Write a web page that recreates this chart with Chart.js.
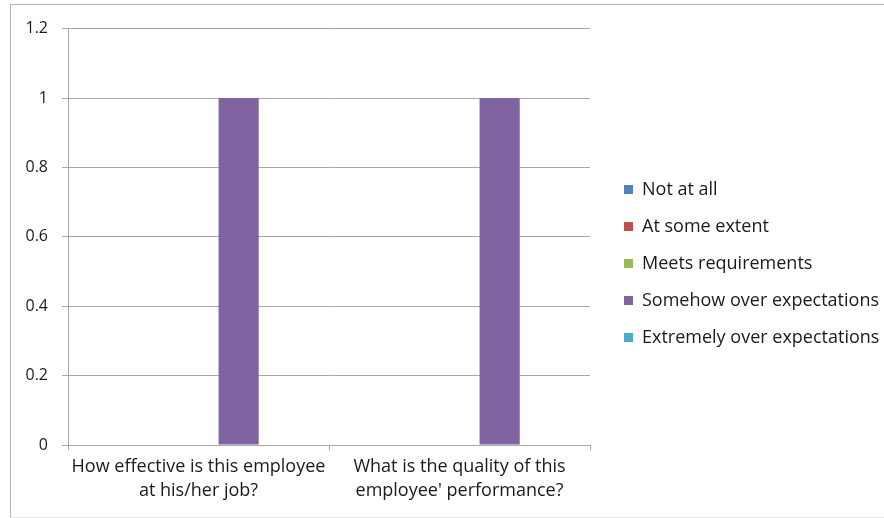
<!DOCTYPE html>
<html>
<head>
<meta charset="utf-8">
<script src="https://cdn.jsdelivr.net/npm/chart.js@4/dist/chart.umd.min.js"></script>
<style>
  html, body { margin: 0; padding: 0; background: #fff; overflow: hidden; }
  #frame {
    position: absolute; left: 10px; top: 4px;
    width: 874px; height: 512px;
    border-left: 1px solid #b4b4b4;
    border-top: 1px solid #b4b4b4;
    border-bottom: 1px solid #e4e4e4;
  }
  canvas { display: block; }
</style>
</head>
<body>
<div id="frame"><canvas id="ratingChart" width="874" height="512"></canvas></div>
<script>
// questions on the x axis (two lines each)
const categories = [
  ["How effective is this employee", "at his/her job?"],
  ["What is the quality of this", "employee' performance?"]
];

// answer options and how many picked each one
const seriesNames = [
  "Not at all",
  "At some extent",
  "Meets requirements",
  "Somehow over expectations",
  "Extremely over expectations"
];
const notAtAll = [0, 0];
const atSomeExtent = [0, 0];
const meetsRequirements = [0, 0];
const somehowOver = [1, 1];
const extremelyOver = [0, 0];

const yTickLabels = ["0", "0.2", "0.4", "0.6", "0.8", "1", "1.2"];

const colors = ["#4f81bd", "#c0504d", "#9bbb59", "#8064a2", "#4bacc6"];
const seriesValues = [notAtAll, atSomeExtent, meetsRequirements, somehowOver, extremelyOver];

const family = "'Open Sans', sans-serif";
const textColor = "#1a1a1a";
const lineColor = "#a8a8a8";

// the layout caps the legend box width, so after layout the legend is
// nudged right/up and its box stretched to the canvas edge
const legendShift = {
  id: "legendShift",
  afterLayout(chart) {
    const lg = chart.legend;
    lg.left += 15;
    lg.right = chart.width;
    lg.width = lg.right - lg.left;
    lg.top -= 4;
    lg.bottom -= 4;
  }
};

function drawChart() {
  const ctx = document.getElementById("ratingChart").getContext("2d");
  new Chart(ctx, {
    type: "bar",
    data: {
      labels: categories,
      datasets: seriesNames.map((name, i) => ({
        label: name,
        data: seriesValues[i],
        backgroundColor: colors[i],
        borderWidth: 0,
        categoryPercentage: 5 / 6.5,
        barPercentage: 1
      }))
    },
    options: {
      responsive: false,
      animation: false,
      devicePixelRatio: 1,
      layout: { padding: { top: 22, right: 102, bottom: 9, left: 0 } },
      plugins: {
        tooltip: { enabled: false },
        legend: {
          position: "right",
          labels: {
            boxWidth: 9,
            boxHeight: 9,
            padding: 19,
            color: textColor,
            font: { family: family, size: 18 }
          }
        }
      },
      scales: {
        x: {
          grid: { offset: true, drawOnChartArea: false, drawTicks: true, tickLength: 5, color: lineColor },
          border: { color: lineColor },
          ticks: {
            color: textColor,
            font: { family: family, size: 18, lineHeight: 4 / 3 },
            padding: 5,
            maxRotation: 0
          }
        },
        y: {
          min: 0,
          max: 1.2,
          afterFit(scale) { scale.width = 57; },
          grid: { color: lineColor, tickLength: 6 },
          border: { color: lineColor },
          ticks: {
            stepSize: 0.2,
            color: textColor,
            font: { family: family, size: 16 },
            padding: 14,
            callback: (v, i) => yTickLabels[i]
          }
        }
      }
    },
    plugins: [legendShift]
  });
}

Promise.all([
  document.fonts.load("16px 'Open Sans'"),
  document.fonts.load("18px 'Open Sans'")
]).then(drawChart, drawChart);
</script>
</body>
</html>
